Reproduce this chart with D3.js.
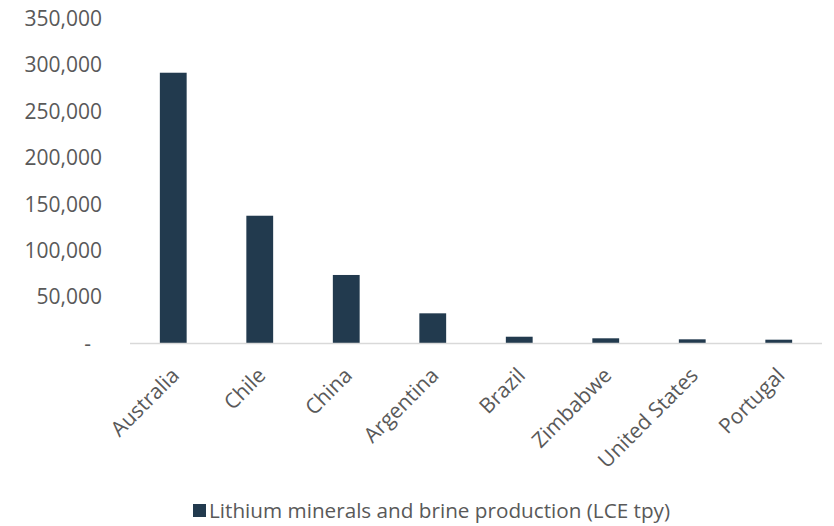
<!DOCTYPE html>
<html><head><meta charset="utf-8">
<script src="https://cdn.jsdelivr.net/npm/d3@7"></script>
<style>body{margin:0;background:#fff}svg{display:block}text{font-family:"Open Sans",sans-serif;fill:#595959}</style>
</head><body>
<svg id="c" width="834" height="526"></svg>
<script>
const categories = ["Australia","Chile","China","Argentina","Brazil","Zimbabwe","United States","Portugal"];
const values = [291600, 137600, 73800, 32500, 7300, 5600, 4500, 4100];
const yTicks = [0, 50000, 100000, 150000, 200000, 250000, 300000, 350000];
const seriesName = "Lithium minerals and brine production (LCE tpy)";
const barColor = "#223A4E";

const svg = d3.select("#c");
const x = d3.scaleBand().domain(categories).range([130, 822]).paddingInner(0.69).paddingOuter(0.345);
const y = d3.scaleLinear().domain([0, 350000]).range([343.5, 18.5]);

// y labels
const fmt = d3.format(",");
svg.append("g").selectAll("text").data(yTicks).join("text")
  .attr("x", d => d === 0 ? 91 : 102)
  .attr("y", d => y(d))
  .attr("dy", "0.35em")
  .attr("text-anchor", "end")
  .style("font-size", "21px")
  .text(d => d === 0 ? "-" : fmt(d));

// bars
svg.append("g").selectAll("rect").data(categories).join("rect")
  .attr("x", d => x(d))
  .attr("width", x.bandwidth())
  .attr("y", (d, i) => y(values[i]))
  .attr("height", (d, i) => y(0) - y(values[i]))
  .attr("fill", barColor);

// axis line
svg.append("line").attr("x1", 130).attr("x2", 822).attr("y1", y(0)).attr("y2", y(0))
  .attr("stroke", "#D9D9D9").attr("stroke-width", 1.5);

// x labels
svg.append("g").selectAll("text").data(categories).join("text")
  .attr("transform", d => `translate(${x(d) + x.bandwidth()/2 + 2},${y(0) + 28}) rotate(-45)`)
  .attr("text-anchor", "end")
  .attr("dy", "0.35em")
  .style("font-size", "21px")
  .text(d => d);

// legend
const lg = svg.append("g");
lg.append("rect").attr("x", 193).attr("y", 504).attr("width", 13).attr("height", 13).attr("fill", barColor);
lg.append("text").attr("x", 209).attr("y", 511).attr("dy", "0.35em").style("font-size", "20.7px").text(seriesName);
</script>
</body></html>
